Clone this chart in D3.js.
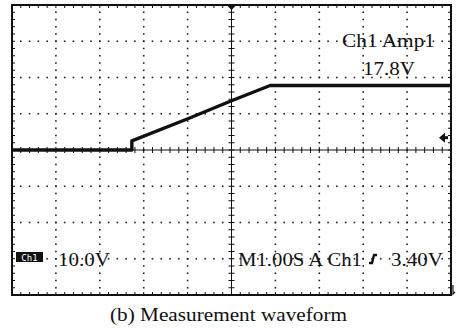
<!DOCTYPE html>
<html><head><meta charset="utf-8">
<script src="https://cdn.jsdelivr.net/npm/d3@7"></script>
<style>html,body{margin:0;padding:0;background:#fff;}svg{display:block;}</style>
</head><body><svg id="c" width="464" height="328"></svg>
<script>
// ---- data ----
const timeSec = [-5, -2.27, -2.27, -0.98, 0.0, 0.88, 5];   // seconds, trigger at 0
const voltsV  = [0, 0, 2.5, 8.7, 13.6, 17.8, 17.8];         // volts
const xDomain = [-5, 5];      // 10 divisions, 1.00 s/div
const yDomain = [-40, 40];    // 8 divisions, 10.0 V/div
const triggerLevelV = 3.40;
const ampText = ["Ch1 Amp1", "17.8V"];
const scaleText = "10.0V";
const timebaseText = "M1.00S A Ch1";
const trigText = "3.40V";
const caption = "(b) Measurement waveform";

const svg = d3.select("#c");
const L = 12, R = 451, T = 5, B = 295;
const x = d3.scaleLinear().domain(xDomain).range([L, R]);
const y = d3.scaleLinear().domain(yDomain).range([B, T]);
const ink = "#111";

const majX = d3.range(xDomain[0], xDomain[1] + 0.001, 1);
const majY = d3.range(yDomain[0], yDomain[1] + 0.001, 10);
const minX = d3.range(xDomain[0], xDomain[1] + 0.001, 0.2);
const minY = d3.range(yDomain[0], yDomain[1] + 0.001, 2);

// dotted grid
const g = svg.append("g");
const dots = [];
majY.slice(1, -1).forEach(v => { if (v !== 0) minX.forEach(t => dots.push([t, v])); });
majX.slice(1, -1).forEach(t => { if (t !== 0) minY.forEach(v => dots.push([t, v])); });
g.selectAll("rect.dot").data(dots).join("rect").attr("class", "dot")
  .attr("x", d => x(d[0]) - 0.8).attr("y", d => y(d[1]) - 0.8)
  .attr("width", 1.6).attr("height", 1.6).attr("fill", "#222");

// center axes
g.append("line").attr("x1", L).attr("x2", R).attr("y1", y(0)).attr("y2", y(0)).attr("stroke", ink).attr("stroke-width", 1);
g.append("line").attr("x1", x(0)).attr("x2", x(0)).attr("y1", T).attr("y2", B).attr("stroke", ink).attr("stroke-width", 1);
g.selectAll("line.cx").data(minX).join("line").attr("class", "cx")
  .attr("x1", d => x(d)).attr("x2", d => x(d)).attr("y1", y(0) - 3).attr("y2", y(0) + 3).attr("stroke", ink);
g.selectAll("line.cy").data(minY).join("line").attr("class", "cy")
  .attr("y1", d => y(d)).attr("y2", d => y(d)).attr("x1", x(0) - 3).attr("x2", x(0) + 3).attr("stroke", ink);

// border ticks
g.selectAll("line.bt").data(minX).join("line").attr("class", "bt")
  .attr("x1", d => x(d)).attr("x2", d => x(d)).attr("y1", T).attr("y2", T + 3).attr("stroke", ink);
g.selectAll("line.bb").data(minX).join("line").attr("class", "bb")
  .attr("x1", d => x(d)).attr("x2", d => x(d)).attr("y1", B).attr("y2", B - 3).attr("stroke", ink);
g.selectAll("line.bl").data(minY).join("line").attr("class", "bl")
  .attr("y1", d => y(d)).attr("y2", d => y(d)).attr("x1", L).attr("x2", L + 3).attr("stroke", ink);
g.selectAll("line.br").data(minY).join("line").attr("class", "br")
  .attr("y1", d => y(d)).attr("y2", d => y(d)).attr("x1", R).attr("x2", R - 3).attr("stroke", ink);

// frame
g.append("rect").attr("x", L).attr("y", T).attr("width", R - L).attr("height", B - T)
  .attr("fill", "none").attr("stroke", ink).attr("stroke-width", 2);

// trigger position marker (top)
const tx = x(0);
g.append("path").attr("d", `M${tx-5},${T} L${tx+5},${T} L${tx},${T+5} Z`).attr("fill", ink);
// trigger level arrow (right)
const ty = y(triggerLevelV);
g.append("path").attr("d", `M${R-12},${ty} L${R-6},${ty-5} L${R-6},${ty+5} Z`).attr("fill", ink);
g.append("line").attr("x1", R-7).attr("x2", R-3).attr("y1", ty).attr("y2", ty).attr("stroke", ink).attr("stroke-width", 3);
// small mark at bottom right
g.append("path").attr("d", `M${R+2},${B-10} L${R+2},${B-1} L${R+4},${B-3}`).attr("fill", "none").attr("stroke", ink).attr("stroke-width", 1.2);

// trace
const pts = timeSec.map((t, i) => [t, voltsV[i]]);
svg.append("path").datum(pts)
  .attr("d", d3.line().x(d => x(d[0])).y(d => y(d[1])))
  .attr("fill", "none").attr("stroke", ink).attr("stroke-width", 3.4).attr("stroke-linejoin", "round");

// texts
const serif = "'Liberation Serif','Times New Roman',serif";
function txt(s, xx, yy, len, size) {
  svg.append("text").attr("x", xx).attr("y", yy).attr("font-family", serif)
    .attr("font-size", size || 19).attr("fill", ink)
    .attr("textLength", len).attr("lengthAdjust", "spacingAndGlyphs").text(s);
}
txt(ampText[0], 342, 47, 93);
txt(ampText[1], 363, 75, 52);
txt(scaleText, 58, 266, 52);
txt(timebaseText, 238, 266, 124);
txt(trigText, 391, 266, 52);
txt(caption, 110, 321, 237, 19);

// Ch1 badge
svg.append("rect").attr("x", 16).attr("y", 252).attr("width", 27).attr("height", 10).attr("fill", ink);
svg.append("text").attr("x", 29.5).attr("y", 260.5).attr("text-anchor", "middle")
  .attr("font-family", "'DejaVu Sans Mono',monospace").attr("font-size", 9).attr("fill", "#fff").text("Ch1");

// rising edge symbol
svg.append("path").attr("d", "M369,263 L372,263 L374,255 L377,255")
  .attr("fill", "none").attr("stroke", ink).attr("stroke-width", 2.4);
</script></body></html>
